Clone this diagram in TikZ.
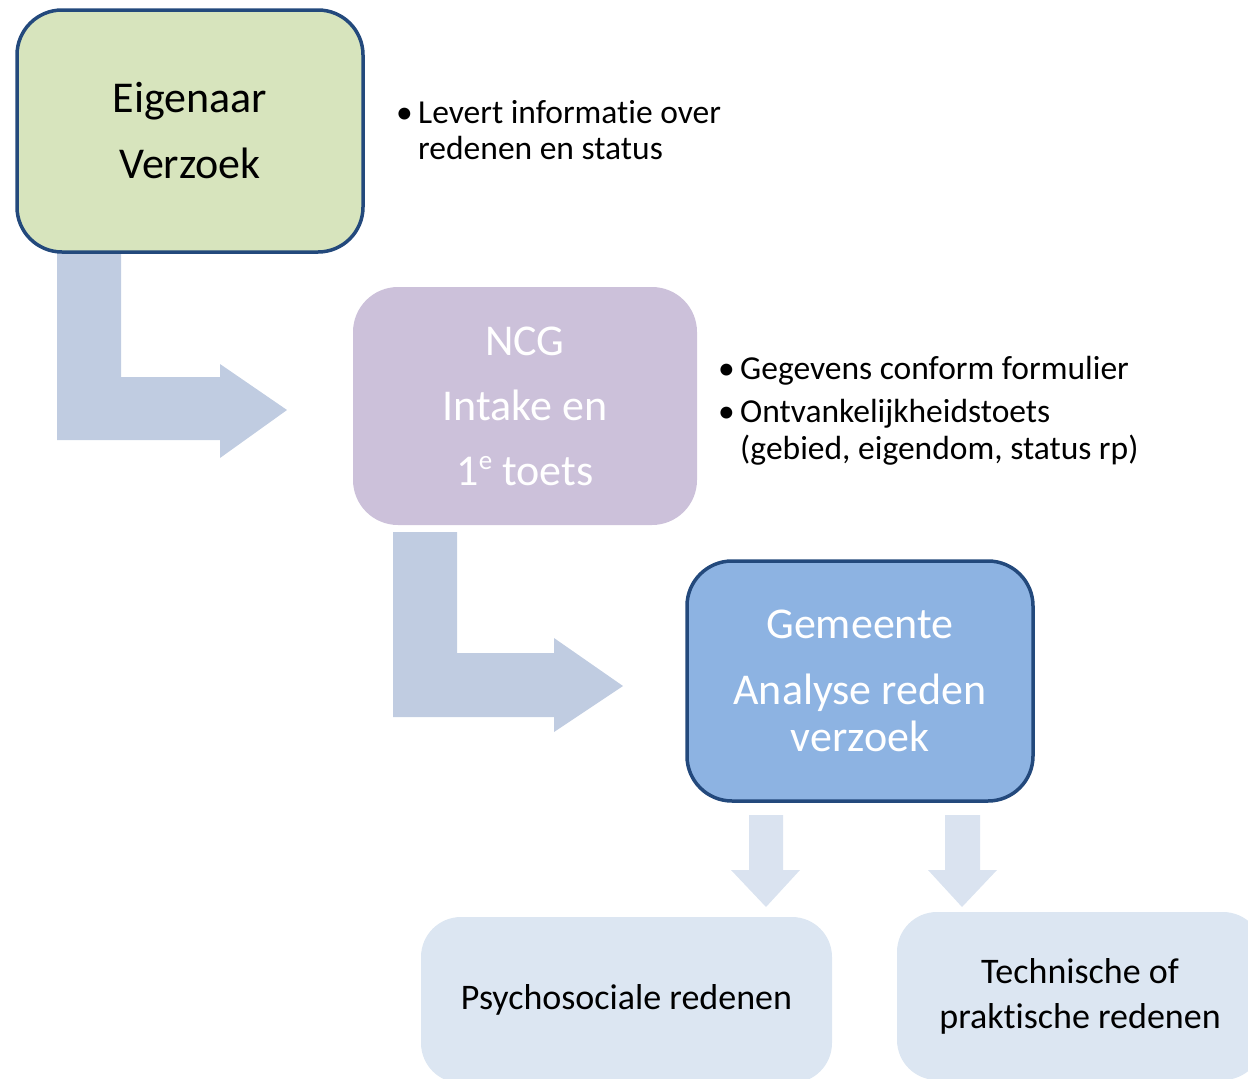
\documentclass[tikz,border=0pt]{standalone}
\usepackage{fontspec}
\setmainfont{Carlito}[Ligatures=NoCommon]
\definecolor{greenfill}{HTML}{D7E4BD}
\definecolor{darkborder}{HTML}{23497C}
\definecolor{purplefill}{HTML}{CCC1DA}
\definecolor{bluefill}{HTML}{8DB3E2}
\definecolor{arrowblue}{HTML}{C0CCE1}
\definecolor{lightarrow}{HTML}{DAE3F0}
\definecolor{lightbox}{HTML}{DCE6F2}
\begin{document}
\begin{tikzpicture}[x=1pt,y=-1pt,
  bigbox/.style={rectangle, rounded corners=45pt, inner sep=0pt, align=center,
    font=\fontsize{44}{47}\selectfont},
  smallbox/.style={rectangle, rounded corners=40pt, inner sep=0pt, align=center,
    fill=lightbox, font=\fontsize{36}{45}\selectfont},
  bullettext/.style={anchor=base west, inner sep=0pt, font=\fontsize{33.5}{36}\selectfont},
  bendarrow/.style={fill=arrowblue},
  downarrow/.style={fill=lightarrow}]
\useasboundingbox (0,0) rectangle (1248,1079);
\clip (0,0) rectangle (1248,1079);

% bent block arrows (drawn first, under the boxes)
\fill[bendarrow] (57,245) -- (121,245) -- (121,377) -- (220,377) -- (220,364) -- (287,410)
  -- (220,458) -- (220,440) -- (57,440) -- cycle;
\fill[bendarrow] (393,532) -- (457,532) -- (457,653) -- (554,653) -- (554,638) -- (623,686)
  -- (554,732) -- (554,717) -- (393,717) -- cycle;

% boxes
\node[bigbox, draw=darkborder, line width=3.5pt, fill=greenfill,
  minimum width=346pt, minimum height=242pt] (eig) at (190,131)
  {Eigenaar\\[19pt]Verzoek};
\node[bigbox, fill=purplefill, text=white,
  minimum width=344pt, minimum height=238pt] (ncg) at (525,406)
  {NCG\\[18pt]Intake en\\[18pt]1\raisebox{0.36em}{\fontsize{27}{27}\selectfont e} toets};
\node[bigbox, draw=darkborder, line width=3.5pt, fill=bluefill, text=white,
  minimum width=346pt, minimum height=240pt] (gem) at (860,681)
  {Gemeente\\[19pt]Analyse reden\\verzoek};

% down arrows
\fill[downarrow] (749,815) -- (783,815) -- (783,870) -- (800,870) -- (766,907)
  -- (731,870) -- (749,870) -- cycle;
\fill[downarrow] (945,815) -- (980,815) -- (980,870) -- (997,870) -- (962,907)
  -- (928,870) -- (945,870) -- cycle;

% bottom boxes
\node[smallbox, minimum width=411pt, minimum height=166pt] (psy) at (626.5,1000)
  {Psychosociale redenen};
\node[smallbox, minimum width=366pt, minimum height=168pt] (tech) at (1080,996)
  {Technische of\\praktische redenen};

% bullet texts
\node[bullettext] (b1) at (396,123) {•};
\node[bullettext] (t1a) at (418,123) {Levert informatie over};
\node[bullettext] (t1b) at (418,159) {redenen en status};

\node[bullettext] (b2) at (718,379) {•};
\node[bullettext] (t2a) at (740,379) {Gegevens conform formulier};
\node[bullettext] (b3) at (718,422) {•};
\node[bullettext] (t3a) at (740,422) {Ontvankelijkheidstoets};
\node[bullettext] (t3b) at (740,459) {(gebied, eigendom, status rp)};
\end{tikzpicture}
\end{document}
